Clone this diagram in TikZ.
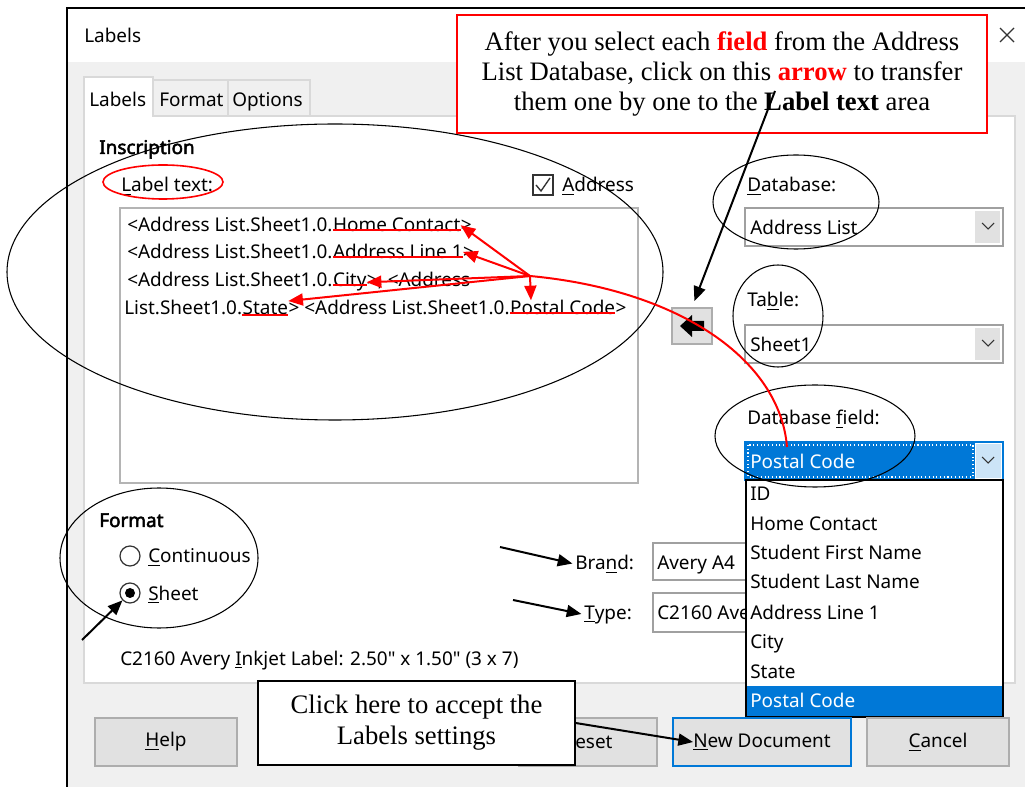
\documentclass[tikz,border=0pt]{standalone}
\usepackage{fontspec}
\setmainfont{Liberation Serif}
\newfontfamily\uifont{Noto Sans}
\newfontfamily\uiboldfont{Noto Sans}[FakeBold=2.5]
\usetikzlibrary{arrows.meta,calc}
\definecolor{dlgbg}{HTML}{F0F0F0}
\definecolor{btnbg}{HTML}{E1E1E1}
\definecolor{btnbd}{HTML}{ADADAD}
\definecolor{selblue}{HTML}{0078D7}
\definecolor{lightsel}{HTML}{CCE4F7}
\definecolor{panelbd}{HTML}{D9D9D9}
\definecolor{boxbd}{HTML}{B4B4B4}
\definecolor{combobd}{HTML}{A0A0A0}
\definecolor{uidark}{HTML}{333333}
\begin{document}
\begin{tikzpicture}[x=0.75pt,y=-0.75pt,
  ui/.style={font=\uifont\fontsize{14.2}{17}\selectfont, inner sep=0pt, anchor=base west, text=black},
  uib/.style={font=\uiboldfont\fontsize{14.2}{17}\selectfont, inner sep=0pt, anchor=base west, text=black},
  combo/.style={draw=combobd, fill=white, line width=1pt, minimum width=258*0.75pt, minimum height=38*0.75pt, inner sep=0pt},
  btn/.style={draw=btnbd, fill=btnbg, line width=1.2pt, minimum width=142*0.75pt, minimum height=48*0.75pt, inner sep=0pt, font=\uifont\fontsize{14.2}{17}\selectfont},
  ring/.style={draw=black, line width=0.8pt},
  redln/.style={draw=red, line width=1.5pt},
  redarr/.style={draw=red, line width=1.5pt, -{Triangle[length=11pt,width=9pt]}},
  blkarr/.style={draw=black, line width=1.5pt, -{Triangle[length=11pt,width=9pt]}},
  chev/.style={draw=uidark, line width=0.8pt},
  callout/.style={fill=white, align=center, inner sep=0pt, font=\fontsize{20}{22.5}\selectfont}
]
\useasboundingbox (0,0) rectangle (1025,787);
\fill[white] (0,0) rectangle (1025,787);
% dialog frame
\fill[dlgbg] (67,62) rectangle (1025,787);
\fill[white] (67,8) rectangle (1025,62);
\draw[line width=2.2pt] (67,787) -- (67,8) -- (1025,8);
\node[ui] (title) at (84,43) {Labels};
\draw[uidark, line width=1pt] (1000,28) -- (1014,42) (1014,28) -- (1000,42);
% tab panel and tabs
\draw[panelbd, fill=white, line width=1pt] (84,116) rectangle (1015,683);
\draw[panelbd, fill=dlgbg, line width=1pt] (153,80) rectangle (228,116);
\draw[panelbd, fill=dlgbg, line width=1pt] (228,80) rectangle (310,116);
\draw[panelbd, fill=white, line width=1pt] (84,117) -- (84,77) -- (153,77) -- (153,117);
\node[ui] (tablab) at (89,107) {Labels};
\node[ui] (tabfmt) at (159,107) {Format};
\node[ui] (tabopt) at (232,107) {Options};
% inscription
\node[uib] (insc) at (99,154) {Inscription};
\node[ui] (lbltxt) at (121,192) {\underline{L}abel text:};
\draw[red, line width=1.2pt] (163,182) ellipse [x radius=60, y radius=17];
\node[draw=uidark, fill=white, line width=0.9pt, minimum size=20*0.75pt, inner sep=0pt] (chk) at (543,185) {};
\draw[uidark, line width=1pt] (536,185) -- (541,191) -- (550,178);
\node[ui] (addr) at (562,192) {\underline{A}ddress};
% text area
\node[draw=boxbd, fill=white, line width=1pt, minimum width=518*0.75pt, minimum height=275*0.75pt, inner sep=0pt] (tarea) at (379,345.5) {};
\node[ui] (t1a) at (127,232) {<Address List.Sheet1.0.};
\node[ui] (hc) at (t1a.base east) {Home Contact};
\node[ui] (t1c) at (hc.base east) {>};
\node[ui] (t2a) at (127,259) {<Address List.Sheet1.0.};
\node[ui] (al) at (t2a.base east) {Address Line 1};
\node[ui] (t2c) at (al.base east) {>};
\node[ui] (t3a) at (127,287) {<Address List.Sheet1.0.};
\node[ui] (city) at (t3a.base east) {City};
\node[ui] (t3c) at (city.base east) {>, <Address};
\node[ui] (t4a) at (124,315) {List.Sheet1.0.};
\node[ui] (st) at (t4a.base east) {State};
\node[ui] (t4c) at (st.base east) {> <Address List.Sheet1.0.};
\node[ui] (pc) at (t4c.base east) {Postal Code};
\node[ui] (t4e) at (pc.base east) {>};
% right column
\node[ui] (dblbl) at (747,192) {\underline{D}atabase:};
\node[combo] (dbcombo) at (874,227) {};
\fill[btnbg] (975,211) rectangle (1000,243);
\draw[chev] (982,223) -- (988,229) -- (994,223);
\node[ui] (dbval) at (750,235) {Address List};
\node[ui] (tbllbl) at (747,307) {Ta\underline{b}le:};
\node[combo] (tblcombo) at (874,344) {};
\fill[btnbg] (975,328) rectangle (1000,360);
\draw[chev] (982,340) -- (988,346) -- (994,340);
\node[ui] (tblval) at (750,352) {Sheet1};
\node[ui] (dbflbl) at (747,425) {Database \underline{f}ield:};
\node[combo, draw=selblue] (dbfcombo) at (874,461) {};
\fill[selblue] (746,443) rectangle (975,479);
\draw[white, dotted, line width=0.8pt] (748,445) rectangle (973,477);
\fill[lightsel] (976,444) rectangle (1001,478);
\draw[chev] (982,457) -- (988,463) -- (994,457);
\node[ui, text=white] (dbfval) at (750,469) {Postal Code};
% arrow button
\node[draw=btnbd, fill=btnbg, line width=1pt, minimum width=40*0.75pt, minimum height=36*0.75pt, inner sep=0pt] (arrbtn) at (692,326) {};
\fill[black] (680,326) -- (692,315) -- (692,321) -- (704,321) -- (704,331) -- (692,331) -- (692,337) -- cycle;
% format section
\node[uib] (fmt) at (99,527) {Format};
\node[circle, draw=uidark, fill=white, line width=0.9pt, minimum size=20*0.75pt, inner sep=0pt] (rcont) at (130,556) {};
\node[circle, draw=uidark, fill=white, line width=0.9pt, minimum size=20*0.75pt, inner sep=0pt] (rsheet) at (130,593) {};
\fill[black] (rsheet.center) circle [radius=5];
\node[ui] (cont) at (148,563) {\underline{C}ontinuous};
\node[ui] (sheet) at (148,600) {\underline{S}heet};
\node[ui] (brand) at (575,570) {Bra\underline{n}d:};
\node[ui] (type) at (584,619) {\underline{T}ype:};
\draw[combobd, fill=white, line width=1pt] (653,543) rectangle (800,580);
\draw[combobd, fill=white, line width=1pt] (653,593) rectangle (800,632);
\node[ui] (brandval) at (657,570) {Avery A4};
\node[ui] (typeval) at (657,619) {C2160 Ave};
\node[ui] (desc) at (120,665) {C2160 Avery \underline{I}nkjet Label: 2.50" x 1.50" (3 x 7)};
% dropdown list
\node[draw=black, fill=white, line width=1pt, minimum width=257*0.75pt, minimum height=237*0.75pt, inner sep=0pt] (ddlist) at (874.5,598.5) {};
\fill[selblue] (747,686) rectangle (1002,716);
\node[ui] (i1) at (750,501) {ID};
\node[ui] (i2) at (750,531) {Home Contact};
\node[ui] (i3) at (750,560) {Student First Name};
\node[ui] (i4) at (750,589) {Student Last Name};
\node[ui] (i5) at (750,619) {Address Line 1};
\node[ui] (i6) at (750,648) {City};
\node[ui] (i7) at (750,678) {State};
\node[ui, text=white] (i8) at (750,707) {Postal Code};
% buttons
\node[btn] (help) at (166,742) {\underline{H}elp};
\node[btn, minimum width=138*0.75pt] (reset) at (588,742) {Reset};
\node[btn, draw=selblue, line width=2pt, minimum width=178*0.75pt] (newdoc) at (762,742) {};
\node[ui, anchor=center] (ndtext) at (newdoc.center) {\underline{N}ew Document};
\node[btn] (cancel) at (938,742) {\underline{C}ancel};
% black ellipses
\draw[ring] (335,272) ellipse [x radius=328, y radius=148];
\draw[ring] (796,202) ellipse [x radius=83, y radius=47];
\draw[ring] (778,316) ellipse [x radius=45, y radius=51];
\draw[ring] (815,436) ellipse [x radius=100, y radius=51];
\draw[ring] (159,558) ellipse [x radius=99, y radius=70];
% red underlines and arrows
\draw[redln] ([yshift=1.5pt]hc.base west) -- ([yshift=1.5pt]hc.base east);
\draw[redln] ([yshift=1.5pt]al.base west) -- ([yshift=1.5pt]al.base east);
\draw[redln] ([yshift=1.5pt]city.base west) -- ([yshift=1.5pt]city.base east);
\draw[redln] ([yshift=0pt]st.base west) -- ([yshift=0pt]st.base east);
\draw[redln] ([yshift=1.5pt]pc.base west) -- ([yshift=1.5pt]pc.base east);
\coordinate (hub) at (530,276);
\coordinate (pcf) at (787,447);
\draw[redarr] (hub) -- (hc.east);
\draw[redarr] (hub) -- (al.east);
\draw[redarr] (hub) -- (city.east);
\draw[redarr] (hub) -- (st.north east);
\draw[redarr] (hub) -- ($(pc.north west)!0.2!(pc.north east)$);
\draw[redln] (pcf) .. controls (780,360) and (680,290) .. (hub);
% callouts
\node[callout, draw=red, line width=1pt, minimum width=530*0.75pt, minimum height=118*0.75pt] (c1) at (722,74)
  {After you select each \textcolor{red}{\textbf{field}} from the Address\\
   List Database, click on this \textcolor{red}{\textbf{arrow}} to transfer\\
   them one by one to the \textbf{Label text} area};
\node[callout, draw=black, line width=1pt, minimum width=317*0.75pt, minimum height=84*0.75pt, font=\fontsize{20}{23.25}\selectfont] (c2) at (416.5,723)
  {Click here to accept the\\Labels settings};
% black arrows
\coordinate (c1tail) at (775,91);
\coordinate (ba) at (500,547);
\coordinate (ta) at (513,600);
\coordinate (sa) at (82,640);
\draw[blkarr, shorten >=5pt] (c1tail) -- (arrbtn.north);
\draw[blkarr, shorten >=2pt] (ba) -- (brand.west);
\draw[blkarr, shorten >=2pt] (ta) -- (type.west);
\draw[blkarr] (sa) -- (rsheet);
\draw[blkarr] (c2.east) -- (ndtext.west);
\end{tikzpicture}
\end{document}
